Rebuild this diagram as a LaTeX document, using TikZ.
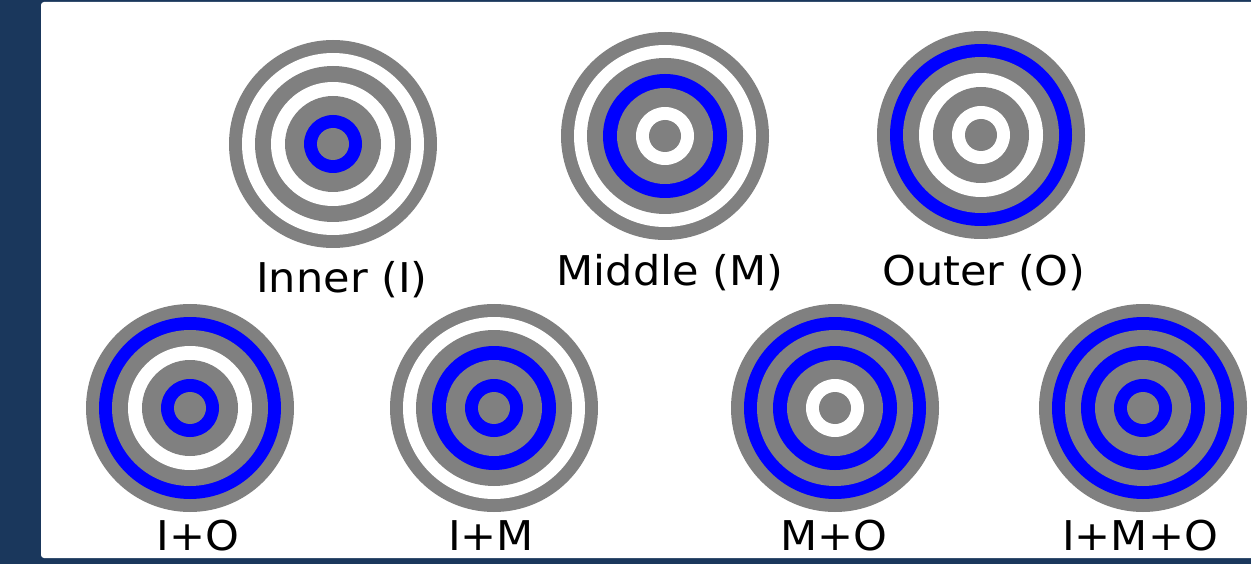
\documentclass[tikz,border=0pt]{standalone}
\usepackage{fontspec}
\setmainfont[FakeStretch=1.05]{DejaVu Sans}
\usetikzlibrary{positioning}

\definecolor{navy}{HTML}{1A375C}
\definecolor{ringgray}{HTML}{808080}
\definecolor{ringblue}{HTML}{0000FF}

% #1 centre, #2 inner ring, #3 middle ring, #4 outer ring
\newcommand{\drawtarget}[4]{%
  \fill[ringgray] (#1) circle[radius=104];
  \fill[#4] (#1) circle[radius=91];
  \fill[ringgray] (#1) circle[radius=78];
  \fill[#3] (#1) circle[radius=62];
  \fill[ringgray] (#1) circle[radius=48];
  \fill[#2] (#1) circle[radius=29];
  \fill[ringgray] (#1) circle[radius=16];
}

\begin{document}
\begin{tikzpicture}[
    x=1pt, y=-1pt,
    lbl/.style={
        anchor=base,
        inner sep=0pt,
        font=\fontsize{41}{45}\selectfont
    }
]
\useasboundingbox (0,0) rectangle (1251,564);
\fill[navy] (0,0) rectangle (1251,564);
\begin{scope}
\clip (0,0) rectangle (1251,564);
\fill[white, rounded corners=3pt] (41,2) rectangle (1260,558);
\end{scope}

\coordinate (tgtI) at (333,144);
\coordinate (tgtM) at (665,136);
\coordinate (tgtO) at (981,135);
\coordinate (tgtIO) at (190,408);
\coordinate (tgtIM) at (494,408);
\coordinate (tgtMO) at (835,408);
\coordinate (tgtIMO) at (1143,408);

\drawtarget{tgtI}{ringblue}{white}{white}
\drawtarget{tgtM}{white}{ringblue}{white}
\drawtarget{tgtO}{white}{white}{ringblue}
\drawtarget{tgtIO}{ringblue}{white}{ringblue}
\drawtarget{tgtIM}{ringblue}{ringblue}{white}
\drawtarget{tgtMO}{white}{ringblue}{ringblue}
\drawtarget{tgtIMO}{ringblue}{ringblue}{ringblue}

\node[lbl] (lblI) at (342,293) {Inner (I)};
\node[lbl] (lblM) at (670,286) {Middle (M)};
\node[lbl] (lblO) at (984,286) {Outer (O)};
\node[lbl] (lblIO) at (198,550) {I+O};
\node[lbl] (lblIM) at (491,550) {I+M};
\node[lbl] (lblMO) at (834,550) {M+O};
\node[lbl] (lblIMO) at (1140,550) {I+M+O};
\end{tikzpicture}
\end{document}
